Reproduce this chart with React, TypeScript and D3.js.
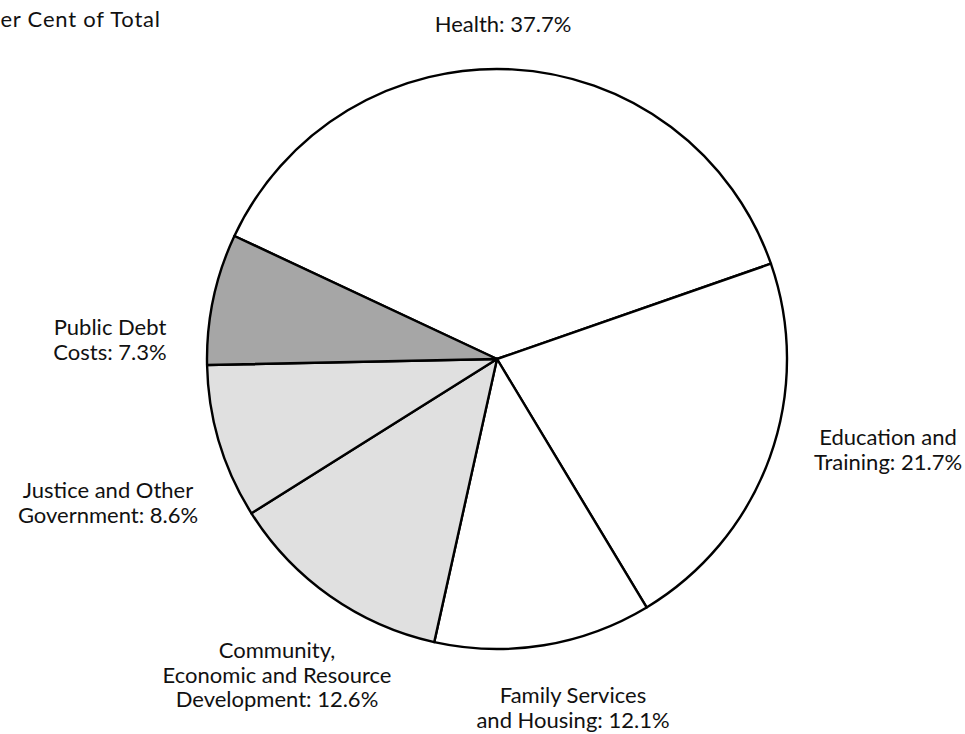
import { useEffect, useRef } from "react";
import * as d3 from "d3";

// data
const categories = [
  "Health",
  "Education and Training",
  "Family Services and Housing",
  "Community, Economic and Resource Development",
  "Justice and Other Government",
  "Public Debt Costs",
];
const shares = [37.7, 21.7, 12.1, 12.6, 8.6, 7.3];
const labelLines = [
  ["Health: 37.7%"],
  ["Education and", "Training: 21.7%"],
  ["Family Services", "and Housing: 12.1%"],
  ["Community,", "Economic and Resource", "Development: 12.6%"],
  ["Justice and Other", "Government: 8.6%"],
  ["Public Debt", "Costs: 7.3%"],
];
const title = "Per Cent of Total";

// layout (not data)
const fills = ["#ffffff", "#ffffff", "#ffffff", "#e0e0e0", "#e0e0e0", "#a6a6a6"];
const labelAt: [number, number][] = [
  [503, 32],
  [888, 445],
  [573, 703],
  [277, 658],
  [108, 498],
  [110, 335],
];

const W = 965;
const H = 734;
const cx = 497;
const cy = 359;
const R = 290;
const FONT = "Lato, 'Open Sans', sans-serif";
const FS = 22;
const LH = 24.5;

export default function App() {
  const ref = useRef<SVGSVGElement>(null);

  useEffect(() => {
    document.body.style.margin = "0";
    const svg = d3.select(ref.current);
    svg.selectAll("*").remove();

    const start = (-64.9 * Math.PI) / 180;
    const pie = d3
      .pie<number>()
      .sort(null)
      .value((d) => d)
      .startAngle(start)
      .endAngle(start + 2 * Math.PI);
    const arc = d3.arc<d3.PieArcDatum<number>>().innerRadius(0).outerRadius(R);

    const g = svg.append("g").attr("transform", `translate(${cx},${cy})`);
    g.selectAll("path")
      .data(pie(shares))
      .enter()
      .append("path")
      .attr("d", arc)
      .attr("fill", (d, i) => fills[i])
      .attr("stroke", "#000")
      .attr("stroke-width", 2.4)
      .attr("stroke-linejoin", "round");

    // labels
    const lab = svg.append("g").attr("font-family", FONT).attr("font-size", FS).attr("fill", "#111");
    labelLines.forEach((lines, i) => {
      const t = lab
        .append("text")
        .attr("text-anchor", "middle")
        .attr("x", labelAt[i][0])
        .attr("y", labelAt[i][1]);
      lines.forEach((ln, j) => {
        t.append("tspan")
          .attr("x", labelAt[i][0])
          .attr("dy", j === 0 ? 0 : LH)
          .text(ln);
      });
    });

    // title, cut off at the left edge like the source
    svg
      .append("text")
      .attr("x", -13)
      .attr("y", 27)
      .attr("textLength", 173)
      .attr("lengthAdjust", "spacing")
      .attr("font-family", FONT)
      .attr("font-size", FS)
      .attr("fill", "#111")
      .text(title);
  }, []);

  return (
    <svg
      ref={ref}
      width={W}
      height={H}
      style={{ display: "block", background: "#fff" }}
    ></svg>
  );
}
